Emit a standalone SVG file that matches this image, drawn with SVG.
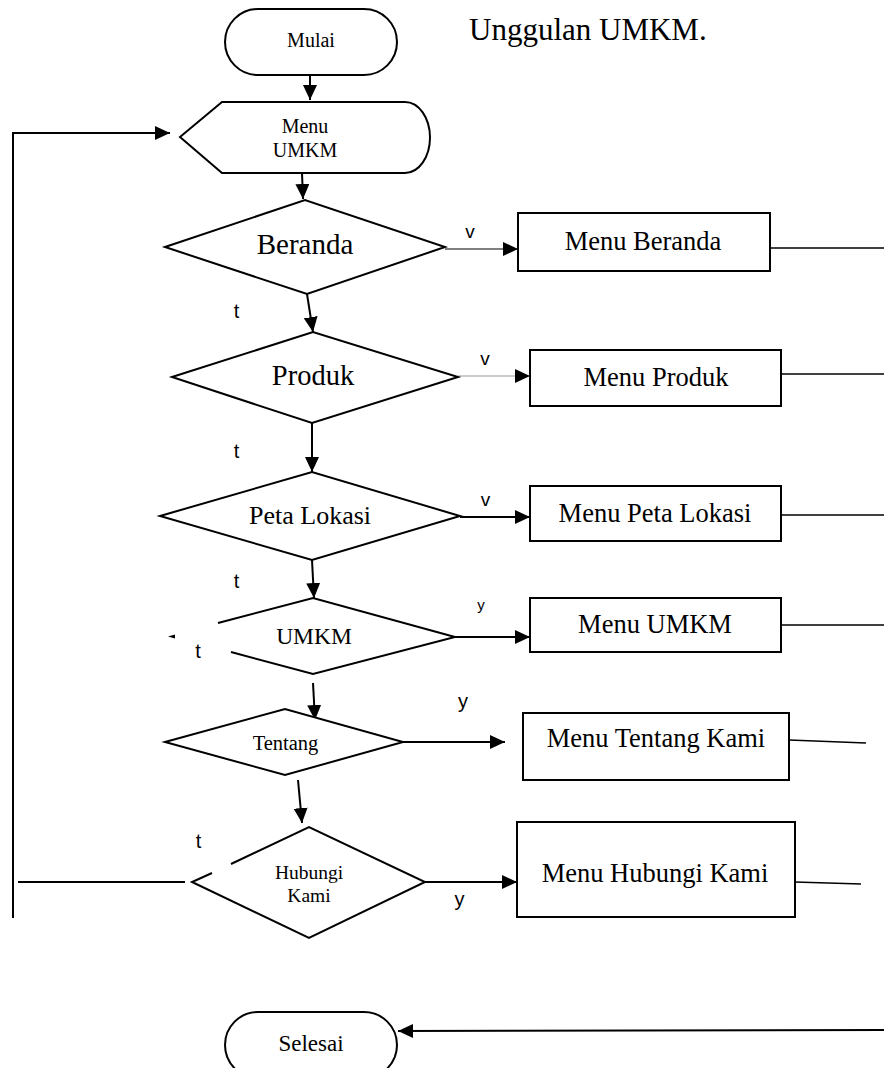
<svg xmlns="http://www.w3.org/2000/svg" width="884" height="1068" viewBox="0 0 884 1068">
<defs>
<marker id="ah" markerUnits="userSpaceOnUse" markerWidth="16" markerHeight="16" refX="15" refY="7" orient="auto">
<path d="M0,0 L15,7 L0,14 Z" fill="#000"/>
</marker>
<style>
.shape{fill:#fff;stroke:#000;stroke-width:2}
.open{fill:none;stroke:#000;stroke-width:2;stroke-linejoin:miter}
.ln{fill:none;stroke:#000;stroke-width:2}
.thin{fill:none;stroke:#000;stroke-width:1}
.gray{fill:none;stroke:#999;stroke-width:1}
.edge{fill:none;stroke:#000;stroke-width:1.5}
.ser{font-family:"Liberation Serif","Times New Roman",serif;fill:#000;text-anchor:middle}
.sans{font-family:"Liberation Sans",Arial,sans-serif;fill:#000;text-anchor:middle}
</style>
</defs>
<rect width="884" height="1068" fill="#fff"/>

<text x="469" y="40" font-family="Liberation Serif, Times New Roman, serif" font-size="31" fill="#000">Unggulan UMKM.</text>

<g id="connectors">
<line class="ln" x1="310" y1="75" x2="310" y2="100" marker-end="url(#ah)"/>
<polyline class="ln" points="13,918 13,133 170,133" marker-end="url(#ah)"/>
<line class="ln" x1="18" y1="882" x2="185" y2="882"/>
<line class="ln" x1="302" y1="173" x2="303" y2="199" marker-end="url(#ah)"/>
<line class="ln" x1="307" y1="294" x2="313" y2="332" marker-end="url(#ah)"/>
<line class="ln" x1="312" y1="423" x2="312" y2="472" marker-end="url(#ah)"/>
<line class="ln" x1="312" y1="560" x2="314" y2="598" marker-end="url(#ah)"/>
<line class="ln" x1="313" y1="683" x2="315" y2="720" marker-end="url(#ah)"/>
<line class="ln" x1="298" y1="780" x2="302" y2="823" marker-end="url(#ah)"/>
<line class="thin" x1="445" y1="249" x2="518" y2="249" marker-end="url(#ah)"/>
<line class="gray" x1="458" y1="376" x2="530" y2="376" marker-end="url(#ah)"/>
<line class="ln" x1="460" y1="517" x2="530" y2="517" marker-end="url(#ah)"/>
<line class="ln" x1="455" y1="637" x2="530" y2="637" marker-end="url(#ah)"/>
<line class="ln" x1="403" y1="742" x2="505" y2="742" marker-end="url(#ah)"/>
<line class="ln" x1="425" y1="882" x2="517" y2="882" marker-end="url(#ah)"/>
<line class="edge" x1="770" y1="248" x2="884" y2="248"/>
<line class="edge" x1="781" y1="374" x2="884" y2="374"/>
<line class="edge" x1="781" y1="515" x2="884" y2="515"/>
<line class="edge" x1="781" y1="625" x2="884" y2="625"/>
<line class="edge" x1="789" y1="740" x2="866" y2="743"/>
<line class="edge" x1="795" y1="882" x2="861" y2="884"/>
<line class="ln" x1="884" y1="1030" x2="398" y2="1031" marker-end="url(#ah)"/>
<polygon points="168,636.5 175,634.5 175,638.5" fill="#000"/>
<text class="sans" x="470" y="238" font-size="19">v</text>
<text class="sans" x="485" y="365" font-size="19">v</text>
<text class="sans" x="485.5" y="506" font-size="19">v</text>
<text class="sans" x="481" y="610" font-size="15">y</text>
<text class="sans" x="463" y="708" font-size="20">y</text>
<text class="sans" x="459.5" y="906" font-size="20">y</text>
<text class="sans" x="236.5" y="318" font-size="20">t</text>
<text class="sans" x="236.5" y="458" font-size="20">t</text>
<text class="sans" x="236.5" y="588" font-size="20">t</text>
<text class="sans" x="198" y="658" font-size="20">t</text>
<text class="sans" x="198.5" y="848" font-size="20">t</text>
</g>

<g id="mulai">
<rect class="shape" x="225" y="9" width="172" height="66" rx="33" ry="33"/>
<text class="ser" x="311" y="47" font-size="20">Mulai</text>
</g>

<g id="menu-umkm-display">
<path class="shape" d="M222,102 L405,102 A25,35.5 0 0 1 405,173 L222,173 L180,137 Z"/>
<text class="ser" x="305" y="133" font-size="20">Menu</text>
<text class="ser" x="305" y="157" font-size="20">UMKM</text>
</g>

<g id="beranda">
<polygon class="shape" points="165,247 305,200 445,247 307,294"/>
<text class="ser" x="305" y="254" font-size="29">Beranda</text>
</g>

<g id="produk">
<polygon class="shape" points="172,377 313,332 458,377 312,423"/>
<text class="ser" x="313" y="385" font-size="28.5">Produk</text>
</g>

<g id="peta-lokasi">
<polygon class="shape" points="160,516 312,472 460,516 312,560"/>
<text class="ser" x="310" y="524" font-size="26">Peta Lokasi</text>
</g>

<g id="umkm">
<path class="open" d="M218,623 L313,598 L455,637 L313,674 L231,652"/>
<text class="ser" x="314" y="644" font-size="23.5">UMKM</text>
</g>

<g id="tentang">
<polygon class="shape" points="165,742 285,709 403,742 285,775"/>
<text class="ser" x="285.5" y="750" font-size="20.5">Tentang</text>
</g>

<g id="hubungi-kami">
<path class="open" d="M212,873 L192,882 L309,938 L425,882 L309,827 L231,864"/>
<text class="ser" x="309" y="879" font-size="19.5">Hubungi</text>
<text class="ser" x="309" y="902" font-size="19.5">Kami</text>
</g>

<g id="menu-beranda">
<rect class="shape" x="518" y="213" width="252" height="58"/>
<text class="ser" x="643" y="250" font-size="26.5">Menu Beranda</text>
</g>

<g id="menu-produk">
<rect class="shape" x="530" y="350" width="251" height="56"/>
<text class="ser" x="656" y="386" font-size="26.5">Menu Produk</text>
</g>

<g id="menu-peta-lokasi">
<rect class="shape" x="530" y="486" width="251" height="55"/>
<text class="ser" x="655" y="522" font-size="26.5">Menu Peta Lokasi</text>
</g>

<g id="menu-umkm">
<rect class="shape" x="530" y="598" width="251" height="54"/>
<text class="ser" x="655" y="633" font-size="26.5">Menu UMKM</text>
</g>

<g id="menu-tentang-kami">
<rect class="shape" x="523" y="713" width="266" height="67"/>
<text class="ser" x="656" y="747" font-size="26.5">Menu Tentang Kami</text>
</g>

<g id="menu-hubungi-kami">
<rect class="shape" x="517" y="822" width="278" height="95"/>
<text class="ser" x="655" y="882" font-size="26.5">Menu Hubungi Kami</text>
</g>

<g id="selesai">
<rect class="shape" x="225" y="1012" width="172" height="66" rx="33" ry="33"/>
<text class="ser" x="311" y="1051" font-size="23">Selesai</text>
</g>
</svg>
